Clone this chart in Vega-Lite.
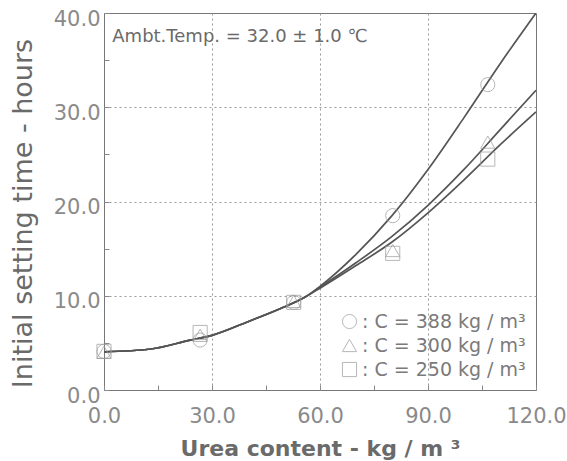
{
  "$schema": "https://vega.github.io/schema/vega-lite/v6.json",
  "width": 432,
  "height": 377,
  "autosize": {"type": "none"},
  "padding": {"left": 104, "top": 13, "right": 31, "bottom": 71},
  "background": "white",
  "config": {
    "font": "DejaVu Sans",
    "view": {"stroke": "#777", "strokeWidth": 1}
  },
  "datasets": {
    "curves": [
      {"series": "388", "x": 0, "y": 4.05}, {"series": "388", "x": 13, "y": 4.35}, {"series": "388", "x": 24, "y": 5.3}, {"series": "388", "x": 30, "y": 5.8}, {"series": "388", "x": 40, "y": 7.25}, {"series": "388", "x": 50, "y": 8.8}, {"series": "388", "x": 56, "y": 9.9},
      {"series": "388", "x": 60, "y": 11.0}, {"series": "388", "x": 70, "y": 14.4}, {"series": "388", "x": 80, "y": 18.5}, {"series": "388", "x": 90, "y": 23.4}, {"series": "388", "x": 100, "y": 28.9}, {"series": "388", "x": 110, "y": 34.6}, {"series": "388", "x": 120, "y": 40.0},
      {"series": "300", "x": 0, "y": 4.05}, {"series": "300", "x": 13, "y": 4.35}, {"series": "300", "x": 24, "y": 5.3}, {"series": "300", "x": 30, "y": 5.8}, {"series": "300", "x": 40, "y": 7.25}, {"series": "300", "x": 50, "y": 8.8}, {"series": "300", "x": 56, "y": 9.9},
      {"series": "300", "x": 60, "y": 10.9}, {"series": "300", "x": 70, "y": 13.5}, {"series": "300", "x": 80, "y": 16.3}, {"series": "300", "x": 90, "y": 19.6}, {"series": "300", "x": 100, "y": 23.4}, {"series": "300", "x": 110, "y": 27.6}, {"series": "300", "x": 120, "y": 31.8},
      {"series": "250", "x": 0, "y": 4.05}, {"series": "250", "x": 13, "y": 4.35}, {"series": "250", "x": 24, "y": 5.3}, {"series": "250", "x": 30, "y": 5.8}, {"series": "250", "x": 40, "y": 7.25}, {"series": "250", "x": 50, "y": 8.8}, {"series": "250", "x": 56, "y": 9.9},
      {"series": "250", "x": 60, "y": 10.8}, {"series": "250", "x": 70, "y": 13.2}, {"series": "250", "x": 80, "y": 15.7}, {"series": "250", "x": 90, "y": 18.8}, {"series": "250", "x": 100, "y": 22.3}, {"series": "250", "x": 110, "y": 26.0}, {"series": "250", "x": 120, "y": 29.5}
    ],
    "points": [
      {"series": "388", "x": 0, "y": 4.1}, {"series": "388", "x": 26.7, "y": 5.3}, {"series": "388", "x": 52.7, "y": 9.3}, {"series": "388", "x": 80.2, "y": 18.5}, {"series": "388", "x": 106.6, "y": 32.4},
      {"series": "300", "x": 0, "y": 4.0}, {"series": "300", "x": 26.7, "y": 5.8}, {"series": "300", "x": 52.7, "y": 9.4}, {"series": "300", "x": 80.2, "y": 14.8}, {"series": "300", "x": 106.6, "y": 26.3},
      {"series": "250", "x": 0, "y": 4.1}, {"series": "250", "x": 26.7, "y": 6.1}, {"series": "250", "x": 52.7, "y": 9.3}, {"series": "250", "x": 80.2, "y": 14.5}, {"series": "250", "x": 106.6, "y": 24.5}
    ]
  },
  "layer": [
    {
      "data": {"name": "curves"},
      "mark": {"type": "line", "color": "#555", "strokeWidth": 1.7, "interpolate": "monotone", "clip": true},
      "encoding": {
        "x": {
          "field": "x", "type": "quantitative",
          "scale": {"domain": [0, 120], "nice": false, "zero": false},
          "axis": {
            "values": [0, 15, 30, 45, 60, 75, 90, 105, 120],
            "labelExpr": "datum.value % 30 === 0 ? format(datum.value, '.1f') : ''",
            "title": "Urea content - kg / m \u00b3",
            "titleFont": "DejaVu Sans", "titleFontSize": 22, "titleFontWeight": "bold", "titleColor": "#6a6a6a", "titlePadding": 12,
            "labelFont": "DejaVu Sans", "labelFontSize": 21, "labelColor": "#8a8a8a", "labelPadding": 20, "labelFlush": false,
            "domain": false,
            "tickSize": -5, "tickColor": "#888",
            "grid": true, "gridDash": [2, 3], "gridColor": "#999",
            "gridOpacity": {"condition": {"test": "datum.value % 30 === 0 && datum.value > 0 && datum.value < 120", "value": 1}, "value": 0}
          }
        },
        "y": {
          "field": "y", "type": "quantitative",
          "scale": {"domain": [0, 40], "nice": false, "zero": false},
          "axis": {
            "values": [0, 5, 10, 15, 20, 25, 30, 35, 40],
            "labelExpr": "datum.value % 10 === 0 ? format(datum.value, '.1f') : ''",
            "title": "Initial setting time - hours",
            "titleFont": "DejaVu Sans", "titleFontSize": 27, "titleFontWeight": "normal", "titleColor": "#6a6a6a", "titlePadding": 16, "titleY": 200,
            "labelFont": "DejaVu Sans", "labelFontSize": 21, "labelColor": "#8a8a8a", "labelPadding": 9, "labelOffset": 6, "labelFlush": false,
            "domain": false,
            "tickSize": -5, "tickColor": "#888",
            "grid": true, "gridDash": [2, 3], "gridColor": "#999",
            "gridOpacity": {"condition": {"test": "datum.value % 10 === 0 && datum.value > 0 && datum.value < 40", "value": 1}, "value": 0}
          }
        },
        "detail": {"field": "series", "type": "nominal"}
      }
    },
    {
      "data": {"name": "points"},
      "mark": {"type": "point", "filled": false, "strokeWidth": 1, "color": "#9a9a9a", "size": 200},
      "encoding": {
        "x": {"field": "x", "type": "quantitative"},
        "y": {"field": "y", "type": "quantitative"},
        "shape": {
          "field": "series", "type": "nominal",
          "scale": {"domain": ["388", "300", "250"], "range": ["circle", "triangle-up", "square"]},
          "legend": {
            "title": null,
            "orient": "bottom-right",
            "offset": 10,
            "labelExpr": "': C = ' + datum.label + ' kg / m\u00b3'",
            "labelFont": "DejaVu Sans", "labelFontSize": 19, "labelColor": "#7a7a7a", "labelLimit": 0,
            "symbolStrokeColor": "#9a9a9a", "symbolFillColor": "transparent", "symbolSize": 200, "symbolStrokeWidth": 1,
            "labelOffset": 3, "rowPadding": 4
          }
        }
      }
    },
    {
      "data": {"values": [{"label": "Ambt.Temp. = 32.0 \u00b1 1.0 \u2103"}]},
      "mark": {"type": "text", "align": "left", "baseline": "alphabetic", "font": "DejaVu Sans", "fontSize": 18, "color": "#6a6a6a"},
      "encoding": {
        "x": {"datum": 2.3, "type": "quantitative"},
        "y": {"datum": 36.96, "type": "quantitative"},
        "text": {"field": "label", "type": "nominal"}
      }
    }
  ]
}
